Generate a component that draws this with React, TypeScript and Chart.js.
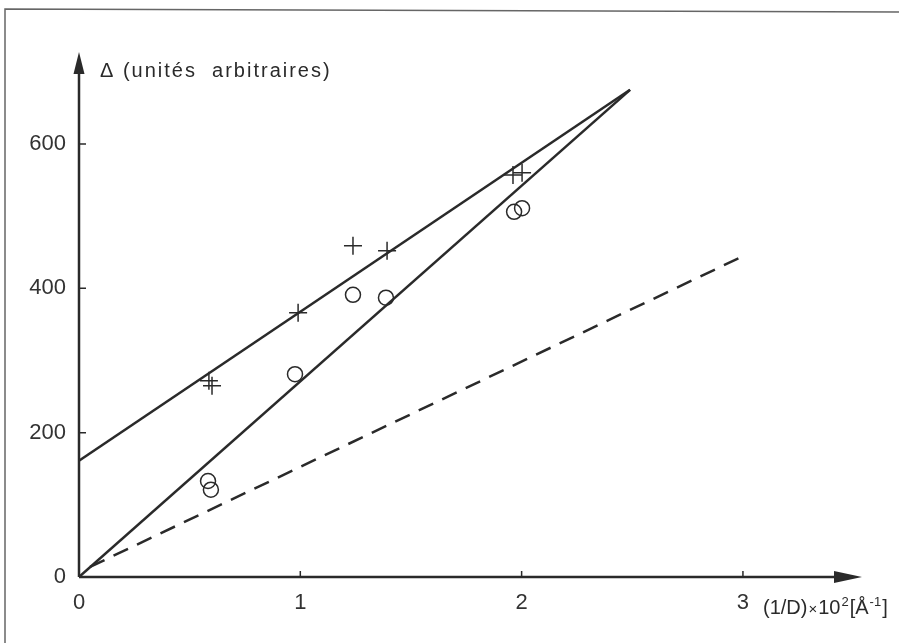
import React, { useEffect, useRef } from "react";
import { Chart, registerables } from "chart.js";

Chart.register(...registerables);

const xTicks = [0, 1, 2, 3];
const yTicks = [0, 200, 400, 600];

const plusX = [0.587, 0.601, 0.99, 1.238, 1.392, 1.961, 2.002];
const plusY = [272, 265, 366, 459, 452, 557, 560];

const circX = [0.583, 0.596, 0.976, 1.238, 1.387, 1.966, 2.002];
const circY = [133, 121, 281, 391, 387, 506, 511];

const upperLineX = [0, 2.49];
const upperLineY = [161, 675];
const lowerLineX = [0, 2.49];
const lowerLineY = [0, 675];
const dashLineX = [0.05, 2.99];
const dashLineY = [14, 443];

const X_MAX = 3.538;
const Y_MAX = 727.4;

const yTitle = "Δ (unités  arbitraires)";
// x title pieces: [text, size, raise]
const xTitleParts: [string, number, number][] = [
  ["(1/D)", 20, 0],
  ["×", 15, 0],
  ["10", 20, 0],
  ["2", 13, 8],
  ["[Å", 20, 0],
  ["-1", 13, 8],
  ["]", 20, 0],
];

const INK = "#2a2a2a";
const FONT = "'Liberation Sans', Arial, sans-serif";

const zip = (xs: number[], ys: number[]) => xs.map((x, i) => ({ x, y: ys[i] }));

const decorPlugin = {
  id: "decor",
  beforeDraw(chart: any) {
    const ctx = chart.ctx;
    ctx.save();
    ctx.fillStyle = "#ffffff";
    ctx.fillRect(0, 0, chart.width, chart.height);
    ctx.strokeStyle = "#666";
    ctx.lineWidth = 1.5;
    ctx.beginPath();
    ctx.moveTo(5, 643);
    ctx.lineTo(5, 9);
    ctx.lineTo(899, 12);
    ctx.stroke();
    ctx.restore();
  },
  afterDraw(chart: any) {
    const ctx = chart.ctx;
    const xs = chart.scales.x;
    const ys = chart.scales.y;
    const x0 = xs.getPixelForValue(0);
    const y0 = ys.getPixelForValue(0);
    const xEnd = xs.getPixelForValue(X_MAX);
    const yEnd = ys.getPixelForValue(Y_MAX);
    ctx.save();
    ctx.strokeStyle = INK;
    ctx.fillStyle = INK;
    ctx.lineWidth = 2.5;
    ctx.beginPath();
    ctx.moveTo(x0, y0);
    ctx.lineTo(xEnd - 20, y0);
    ctx.moveTo(x0, y0);
    ctx.lineTo(x0, yEnd + 18);
    ctx.stroke();
    ctx.beginPath();
    ctx.moveTo(xEnd, y0);
    ctx.lineTo(xEnd - 28, y0 - 6);
    ctx.lineTo(xEnd - 28, y0 + 6);
    ctx.closePath();
    ctx.fill();
    ctx.beginPath();
    ctx.moveTo(x0, yEnd);
    ctx.lineTo(x0 - 5.5, yEnd + 22);
    ctx.lineTo(x0 + 5.5, yEnd + 22);
    ctx.closePath();
    ctx.fill();
    ctx.lineWidth = 1.5;
    ctx.beginPath();
    xTicks.slice(1).forEach((v) => {
      const px = xs.getPixelForValue(v);
      ctx.moveTo(px, y0);
      ctx.lineTo(px, y0 - 6);
    });
    yTicks.slice(1).forEach((v) => {
      const py = ys.getPixelForValue(v);
      ctx.moveTo(x0, py);
      ctx.lineTo(x0 + 7, py);
    });
    ctx.stroke();
    // y title
    ctx.font = `20px ${FONT}`;
    (ctx as any).letterSpacing = "2px";
    ctx.textAlign = "left";
    ctx.textBaseline = "alphabetic";
    ctx.fillText(yTitle, x0 + 21, 77);
    (ctx as any).letterSpacing = "0px";
    // x title
    let cx = 763;
    const base = 614;
    xTitleParts.forEach(([t, size, raise]) => {
      ctx.font = `${size}px ${FONT}`;
      ctx.fillText(t, cx, base - raise);
      cx += ctx.measureText(t).width + 1;
    });
    ctx.restore();
  },
};

export default function App() {
  const ref = useRef<HTMLCanvasElement | null>(null);
  useEffect(() => {
    if (!ref.current) return;
    const chart = new Chart(ref.current, {
      type: "scatter",
      data: {
        datasets: [
          {
            label: "upper",
            data: zip(upperLineX, upperLineY),
            showLine: true,
            pointRadius: 0,
            borderColor: INK,
            borderWidth: 2.5,
          },
          {
            label: "lower",
            data: zip(lowerLineX, lowerLineY),
            showLine: true,
            pointRadius: 0,
            borderColor: INK,
            borderWidth: 2.5,
          },
          {
            label: "dashed",
            data: zip(dashLineX, dashLineY),
            showLine: true,
            pointRadius: 0,
            borderColor: INK,
            borderWidth: 2.5,
            borderDash: [16, 10],
          },
          {
            label: "plus",
            data: zip(plusX, plusY),
            pointStyle: "cross",
            pointRadius: 9,
            borderColor: INK,
            borderWidth: 1.5,
          },
          {
            label: "circle",
            data: zip(circX, circY),
            pointStyle: "circle",
            pointRadius: 7.5,
            borderColor: INK,
            backgroundColor: "rgba(0,0,0,0)",
            borderWidth: 1.5,
          },
        ] as any,
      },
      options: {
        animation: false,
        responsive: false,
        maintainAspectRatio: false,
        events: [],
        layout: { padding: { top: 52, right: 37, left: 0, bottom: 0 } },
        plugins: { legend: { display: false }, tooltip: { enabled: false } },
        elements: { line: { tension: 0 } },
        scales: {
          x: {
            type: "linear",
            min: 0,
            max: X_MAX,
            grid: { display: false, drawTicks: false },
            border: { display: false },
            afterBuildTicks: (s: any) => {
              s.ticks = xTicks.map((v) => ({ value: v }));
            },
            afterFit: (s: any) => {
              s.height = 66;
            },
            ticks: {
              padding: 13,
              color: "#333",
              font: { family: FONT, size: 22 },
              callback: (v: any) => String(v),
            },
          },
          y: {
            type: "linear",
            min: 0,
            max: Y_MAX,
            grid: { display: false, drawTicks: false },
            border: { display: false },
            afterBuildTicks: (s: any) => {
              s.ticks = yTicks.map((v) => ({ value: v }));
            },
            afterFit: (s: any) => {
              s.width = 79;
            },
            ticks: {
              padding: 13,
              color: "#333",
              font: { family: FONT, size: 22 },
              callback: (v: any) => String(v),
            },
          },
        },
      } as any,
      plugins: [decorPlugin],
    });
    return () => chart.destroy();
  }, []);
  return (
    <div style={{ position: "fixed", left: 0, top: 0, width: 899, height: 643, background: "#fff" }}>
      <canvas ref={ref} width={899} height={643} style={{ display: "block" }} />
    </div>
  );
}
